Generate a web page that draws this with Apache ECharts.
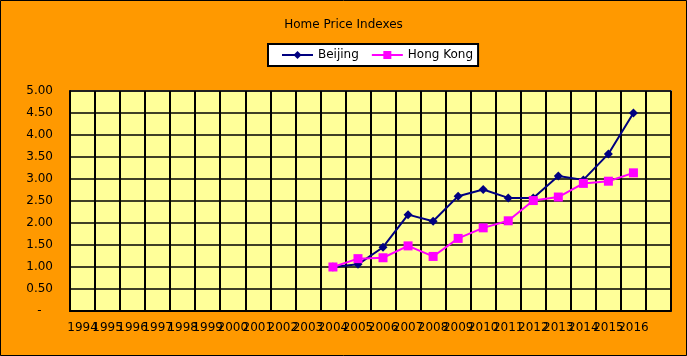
<!DOCTYPE html>
<html>
<head>
<meta charset="utf-8">
<script src="https://cdn.jsdelivr.net/npm/echarts@6/dist/echarts.min.js"></script>
<style>
html,body{margin:0;padding:0;background:#FF9900;}
#c{width:687px;height:356px;}
</style>
</head>
<body>
<div id="c"></div>
<script>
const years = ['1994','1995','1996','1997','1998','1999','2000','2001','2002','2003','2004','2005','2006','2007','2008','2009','2010','2011','2012','2013','2014','2015','2016',''];
const beijing = [null,null,null,null,null,null,null,null,null,null,1.00,1.06,1.45,2.19,2.04,2.61,2.76,2.57,2.57,3.07,2.98,3.57,4.50,null];
const hongKong = [null,null,null,null,null,null,null,null,null,null,1.00,1.19,1.21,1.48,1.24,1.65,1.89,2.05,2.51,2.59,2.90,2.95,3.14,null];
const titleText = 'Home Price Indexes';

const FONT = 'DejaVu Sans';
const chart = echarts.init(document.getElementById('c'), null, {renderer:'canvas'});
chart.setOption({
  backgroundColor: '#FF9900',
  animation: false,
  textStyle: {fontFamily: FONT},
  title: {
    text: titleText, left: 'center', top: 14,
    textStyle: {fontFamily: FONT, fontSize: 12, fontWeight: 'normal', color: '#000'}
  },
  legend: {
    top: 44, left: 268,
    backgroundColor: '#fff', borderColor: '#000', borderWidth: 2,
    padding: [5, 5, 5, 13],
    itemWidth: 31, itemHeight: 10, itemGap: 12,
    textStyle: {fontFamily: FONT, fontSize: 12, color: '#000'}
  },
  grid: {
    left: 70, right: 16, top: 91, bottom: 45,
    show: true, backgroundColor: '#FFFF99', borderColor: '#808080', borderWidth: 2
  },
  xAxis: {
    type: 'category', data: years, boundaryGap: true,
    axisLine: {lineStyle: {color: '#000', width: 2}},
    axisTick: {show: false},
    axisLabel: {interval: 0, color: '#000', fontFamily: FONT, fontSize: 12, margin: 11},
    splitLine: {show: true, interval: 0, lineStyle: {color: '#000', width: 2}}
  },
  yAxis: {
    type: 'value', min: 0, max: 5, interval: 0.5,
    axisLine: {show: true, lineStyle: {color: '#000', width: 2}},
    axisTick: {show: false},
    axisLabel: {
      color: '#000', fontFamily: FONT, fontSize: 12, margin: 17,
      formatter: function(v){ return v === 0 ? '-   ' : v.toFixed(2); }
    },
    splitLine: {show: true, lineStyle: {color: '#000', width: 1.5}}
  },
  series: [
    {
      name: 'Beijing', type: 'line', data: beijing,
      symbol: 'diamond', symbolSize: 9,
      itemStyle: {color: '#000080'}, lineStyle: {color: '#000080', width: 2}
    },
    {
      name: 'Hong Kong', type: 'line', data: hongKong,
      symbol: 'rect', symbolSize: 9,
      itemStyle: {color: '#FF00FF'}, lineStyle: {color: '#FF00FF', width: 2}
    }
  ],
  graphic: [{
    type: 'rect', silent: true, z: 100,
    shape: {x: 0.5, y: 0.5, width: 686, height: 355},
    style: {fill: null, stroke: '#000', lineWidth: 1}
  }]
});
</script>
</body>
</html>
